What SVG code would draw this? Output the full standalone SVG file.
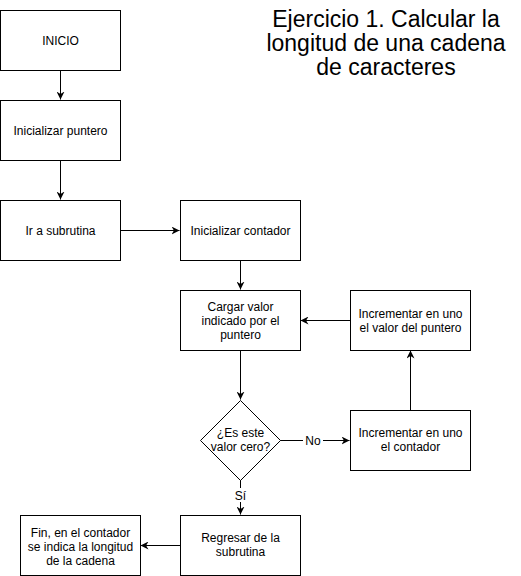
<svg xmlns="http://www.w3.org/2000/svg" width="521" height="576" viewBox="0 0 521 576">
<defs>
<style>
.box{fill:#fff;stroke:#000;stroke-width:1}
.t{font-family:"Liberation Sans",Arial,sans-serif;font-size:12px;fill:#000;text-anchor:middle}
.title{font-family:"Liberation Sans",Arial,sans-serif;font-size:23px;fill:#000;text-anchor:middle}
.c{fill:none;stroke:#000;stroke-width:1}
</style>
<marker id="arr" viewBox="0 0 10 10" refX="10" refY="5" markerWidth="8" markerHeight="8" markerUnits="userSpaceOnUse" orient="auto">
<path d="M0,0 L10,5 L0,10 L3,5 Z" fill="#000"/>
</marker>
</defs>
<rect width="521" height="576" fill="#fff"/>
<g id="title">
<text class="title" x="386" y="27">Ejercicio 1. Calcular la</text>
<text class="title" x="386" y="51">longitud de una cadena</text>
<text class="title" x="386" y="75">de caracteres</text>
</g>
<g id="connectors">
<path class="c" d="M60.5,70 V99.5" marker-end="url(#arr)"/>
<path class="c" d="M60.5,160 V199.5" marker-end="url(#arr)"/>
<path class="c" d="M120,230.5 H179.5" marker-end="url(#arr)"/>
<path class="c" d="M240.5,260 V289.5" marker-end="url(#arr)"/>
<path class="c" d="M240.5,350 V399.5" marker-end="url(#arr)"/>
<path class="c" d="M280,440.5 H349.5" marker-end="url(#arr)"/>
<path class="c" d="M240.5,480 V514.5" marker-end="url(#arr)"/>
<path class="c" d="M410.5,410 V350.5" marker-end="url(#arr)"/>
<path class="c" d="M350,320.5 H300.5" marker-end="url(#arr)"/>
<path class="c" d="M180,545.5 H140.5" marker-end="url(#arr)"/>
<rect x="303" y="433" width="20" height="14" fill="#fff"/>
<text class="t" x="313" y="444.5">No</text>
<rect x="234" y="488" width="13" height="14" fill="#fff"/>
<text class="t" x="240.5" y="499.5">Sí</text>
</g>
<g id="inicio">
<rect class="box" x="0.5" y="10.5" width="120" height="60"/>
<text class="t" x="60.5" y="45">INICIO</text>
</g>
<g id="inicializar-puntero">
<rect class="box" x="0.5" y="100.5" width="120" height="60"/>
<text class="t" x="60.5" y="135">Inicializar puntero</text>
</g>
<g id="ir-subrutina">
<rect class="box" x="0.5" y="200.5" width="120" height="60"/>
<text class="t" x="60.5" y="235">Ir a subrutina</text>
</g>
<g id="inicializar-contador">
<rect class="box" x="180.5" y="200.5" width="120" height="60"/>
<text class="t" x="240.5" y="235">Inicializar contador</text>
</g>
<g id="cargar-valor">
<rect class="box" x="180.5" y="290.5" width="120" height="60"/>
<text class="t" x="240.5" y="311">Cargar valor</text>
<text class="t" x="240.5" y="325">indicado por el</text>
<text class="t" x="240.5" y="339">puntero</text>
</g>
<g id="incrementar-puntero">
<rect class="box" x="350.5" y="290.5" width="120" height="60"/>
<text class="t" x="410.5" y="318">Incrementar en uno</text>
<text class="t" x="410.5" y="332">el valor del puntero</text>
</g>
<g id="decision">
<path class="box" d="M240.5,400.5 L280.5,440.5 L240.5,480.5 L200.5,440.5 Z"/>
<text class="t" x="240.5" y="437">¿Es este</text>
<text class="t" x="240.5" y="451">valor cero?</text>
</g>
<g id="incrementar-contador">
<rect class="box" x="350.5" y="410.5" width="120" height="60"/>
<text class="t" x="410.5" y="437">Incrementar en uno</text>
<text class="t" x="410.5" y="451">el contador</text>
</g>
<g id="regresar">
<rect class="box" x="180.5" y="515.5" width="120" height="60"/>
<text class="t" x="240.5" y="542">Regresar de la</text>
<text class="t" x="240.5" y="556">subrutina</text>
</g>
<g id="fin">
<rect class="box" x="20.5" y="515.5" width="120" height="60"/>
<text class="t" x="80.5" y="537">Fin, en el contador</text>
<text class="t" x="80.5" y="551">se indica la longitud</text>
<text class="t" x="80.5" y="565">de la cadena</text>
</g>
</svg>
